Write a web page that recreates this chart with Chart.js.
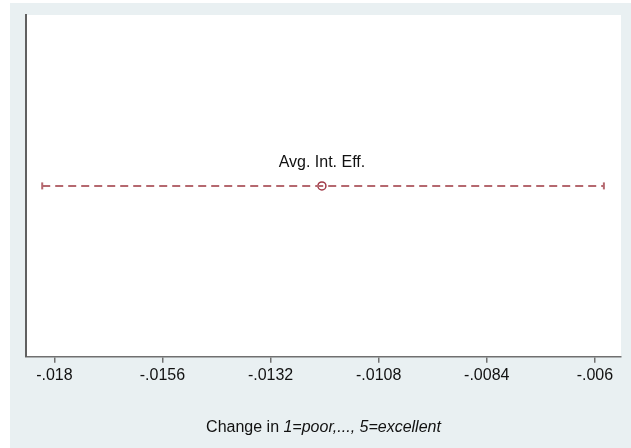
<!DOCTYPE html>
<html>
<head>
<meta charset="utf-8">
<script src="https://cdn.jsdelivr.net/npm/chart.js@4.4.1/dist/chart.umd.min.js"></script>
<style>
  html, body { margin: 0; padding: 0; background: #fff; }
  #wrap { position: absolute; left: 10px; top: 3px; width: 621px; height: 445px; background: #e9f0f2; }
</style>
</head>
<body>
<div id="wrap"><canvas id="chart" width="621" height="445"></canvas></div>
<script>
// Data
const effectLabels = ['Avg. Int. Eff.'];
const estimates = [-0.01206];
const ciLower = [-0.01827];
const ciUpper = [-0.0058];
const xTicks = [-0.018, -0.0156, -0.0132, -0.0108, -0.0084, -0.006];
const xMin = -0.01863;
const xMax = -0.00542;

const FONT = "'Liberation Sans', Arial, Helvetica, sans-serif";

// white plot region
const plotBg = {
    id: 'plotBg',
    beforeDraw(chart) {
        const { ctx, chartArea: a } = chart;
        ctx.save();
        ctx.fillStyle = '#ffffff';
        ctx.fillRect(a.left, a.top, a.right - a.left, a.bottom - a.top);
        ctx.restore();
    }
};

// point label + axis title with italic part
const extras = {
    id: 'extras',
    afterDraw(chart) {
        const { ctx, chartArea: a } = chart;
        ctx.save();
        ctx.fillStyle = '#111';
        ctx.textBaseline = 'alphabetic';
        ctx.textAlign = 'center';
        ctx.font = '16px ' + FONT;
        const pts = chart.getDatasetMeta(1).data;
        pts.forEach((p, i) => {
            ctx.fillText(effectLabels[i], p.x, p.y - 19);
        });

        // x axis title
        const part1 = 'Change in ';
        const part2 = '1=poor,..., 5=excellent';
        ctx.font = '16px ' + FONT;
        const w1 = ctx.measureText(part1).width;
        ctx.font = 'italic 16px ' + FONT;
        const w2 = ctx.measureText(part2).width;
        const cx = (a.left + a.right) / 2;
        let x = cx - (w1 + w2) / 2;
        const y = 429;
        ctx.textAlign = 'left';
        ctx.font = '16px ' + FONT;
        ctx.fillText(part1, x, y);
        ctx.font = 'italic 16px ' + FONT;
        ctx.fillText(part2, x + w1, y);
        ctx.restore();
    }
};

const ciData = [];
estimates.forEach((e, i) => {
    ciData.push({ x: ciLower[i], y: 0 });
    ciData.push({ x: ciUpper[i], y: 0 });
});

new Chart(document.getElementById('chart'), {
    type: 'scatter',
    data: {
        datasets: [
            {
                type: 'line',
                data: ciData,
                borderColor: '#b5686f',
                borderWidth: 2,
                borderDash: [8, 5],
                pointStyle: 'line',
                rotation: 90,
                pointRadius: 3.5,
                pointBorderColor: '#b5686f',
                pointBorderWidth: 2,
                fill: false,
                clip: false
            },
            {
                data: estimates.map(v => ({ x: v, y: 0 })),
                pointStyle: 'circle',
                pointRadius: 4,
                backgroundColor: 'rgba(255,255,255,0)',
                borderColor: '#a23a48',
                borderWidth: 1.5
            }
        ]
    },
    options: {
        responsive: false,
        animation: false,
        layout: { padding: { left: 16, right: 10, top: 12, bottom: 60 } },
        plugins: {
            legend: { display: false },
            tooltip: { enabled: false }
        },
        scales: {
            x: {
                type: 'linear',
                min: xMin,
                max: xMax,
                afterBuildTicks: axis => { axis.ticks = xTicks.map(v => ({ value: v })); },
                grid: {
                    display: true,
                    drawOnChartArea: false,
                    drawTicks: true,
                    tickLength: 6,
                    color: '#707070',
                    lineWidth: 1.5
                },
                border: { display: true, color: '#707070', width: 1.5 },
                ticks: {
                    color: '#111',
                    padding: 3,
                    maxRotation: 0,
                    autoSkip: false,
                    font: { family: FONT, size: 16 },
                    callback: v => String(v).replace('0.', '.')
                }
            },
            y: {
                min: -1,
                max: 1,
                grid: { display: false, drawTicks: false },
                border: { display: true, color: '#606060', width: 2 },
                ticks: { display: false }
            }
        }
    },
    plugins: [plotBg, extras]
});
</script>
</body>
</html>
